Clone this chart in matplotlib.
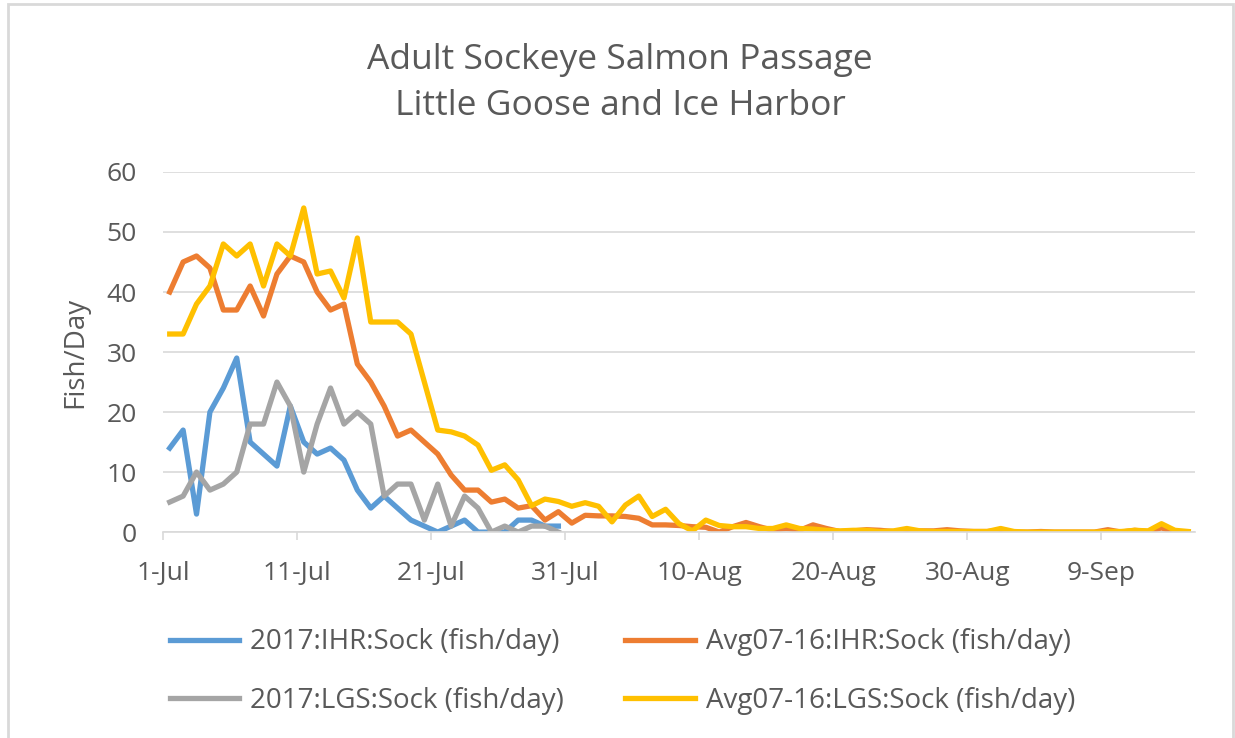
import numpy as np
import pandas as pd
import matplotlib
matplotlib.use("Agg")
import matplotlib.pyplot as plt
from matplotlib.patches import Rectangle

# daily passage, 1-Jul .. 15-Sep (77 days)
dates = pd.date_range("2017-07-01", periods=77, freq="D")

ihr_2017 = [14, 17, 3, 20, 24, 29, 15, 13, 11, 21,
            15, 13, 14, 12, 7, 4, 6, 4, 2, 1,
            0, 1, 2, 0, 0, 0, 2, 2, 1, 1]
lgs_2017 = [5, 6, 10, 7, 8, 10, 18, 18, 25, 21,
            10, 18, 24, 18, 20, 18, 6, 8, 8, 2,
            8, 1, 6, 4, 0, 1, 0, 1, 1, 0]
ihr_avg = [40, 45, 46, 44, 37, 37, 41, 36, 43, 46,
           45, 40, 37, 38, 28, 25, 21, 16, 17, 15,
           13, 9.5, 7, 7, 5, 5.5, 4, 4.4, 2, 3.4,
           1.5, 2.8, 2.7, 2.7, 2.6, 2.3, 1.2, 1.2, 1.1, 0.9,
           0.8, 0, 0.9, 1.6, 0.9, 0.3, 0.6, 0.3, 1.2, 0.6,
           0.1, 0.2, 0.4, 0.3, 0.1, 0.2, 0.2, 0.2, 0.4, 0.2,
           0.1, 0.1, 0.3, 0, 0, 0.1, 0, 0, 0, 0,
           0.4, 0, 0.3, 0.1, 0.7, 0, 0]
lgs_avg = [33, 33, 38, 41, 48, 46, 48, 41, 48, 46,
           54, 43, 43.5, 39, 49, 35, 35, 35, 33, 25,
           17, 16.7, 16, 14.5, 10.3, 11.2, 8.7, 4.4, 5.5, 5.1,
           4.3, 4.9, 4.3, 1.7, 4.5, 6, 2.6, 3.8, 1.4, 0.2,
           2, 1.1, 0.9, 0.9, 0.6, 0.6, 1.2, 0.6, 0.5, 0.3,
           0.2, 0.3, 0.3, 0.1, 0.2, 0.6, 0.2, 0.1, 0.1, 0.1,
           0.1, 0.1, 0.6, 0.1, 0, 0, 0, 0, 0, 0,
           0.1, 0.1, 0.3, 0.2, 1.4, 0.3, 0.1]

labels = ["2017:IHR:Sock (fish/day)", "Avg07-16:IHR:Sock (fish/day)",
          "2017:LGS:Sock (fish/day)", "Avg07-16:LGS:Sock (fish/day)"]
colors = ["#5B9BD5", "#ED7D31", "#A5A5A5", "#FFC000"]
series = [ihr_2017, ihr_avg, lgs_2017, lgs_avg]

txt = "#595959"
plt.rcParams["font.family"] = ["Open Sans", "DejaVu Sans"]

fig = plt.figure(figsize=(12.35, 7.38), dpi=100)
ax = fig.add_axes([0.132, 0.279, 0.8356, 0.488])

# points sit in the middle of each day slot (Excel date axis look)
half = pd.Timedelta(hours=12)
lines = []
for vals, c, lab in zip(series, colors, labels):
    x = dates[:len(vals)] + half
    ln, = ax.plot(x, vals, color=c, lw=3.8, label=lab, solid_joinstyle="round")
    lines.append(ln)

ax.set_ylim(0, 60)
ax.set_yticks(range(0, 61, 10))
ax.set_xlim(dates[0], dates[-1] + pd.Timedelta(days=1))
ticks = dates[::10]
ax.set_xticks(ticks)
ax.set_xticklabels([f"{d.day}-{d.strftime('%b')}" for d in ticks])

ax.grid(axis="y", color="#D9D9D9", lw=1.2)
ax.set_axisbelow(True)
for s in ["top", "right", "left"]:
    ax.spines[s].set_visible(False)
ax.spines["bottom"].set_color("#D9D9D9")
ax.spines["bottom"].set_linewidth(1.2)
ax.tick_params(axis="y", length=0, pad=19, labelsize=19, labelcolor=txt)
ax.tick_params(axis="x", length=6, width=1.2, color="#D9D9D9", pad=15,
               labelsize=19, labelcolor=txt)

fig.text(0.502, 0.919, "Adult Sockeye Salmon Passage", ha="center", va="center",
         fontsize=25.5, color=txt)
fig.text(0.502, 0.856, "Little Goose and Ice Harbor", ha="center", va="center",
         fontsize=25.5, color=txt)
fig.text(0.061, 0.523, "Fish/Day", rotation=90, ha="center", va="center",
         fontsize=20, color=txt)

# legend: rows blue/orange, gray/yellow
order = [0, 2, 1, 3]
fig.legend([lines[i] for i in order], [labels[i] for i in order],
           loc="center", bbox_to_anchor=(0.504, 0.09), ncol=2, frameon=False,
           fontsize=20, labelcolor=txt, handlelength=2.5, handletextpad=0.4,
           columnspacing=2.2, labelspacing=1.1)

# outer chart border
fig.patches.append(Rectangle((8 / 1235, -0.05), 1225 / 1235, 1.05 - 4 / 738,
                             transform=fig.transFigure, fill=False,
                             edgecolor="#D9D9D9", lw=2))

fig.savefig("out.png", dpi=100)
